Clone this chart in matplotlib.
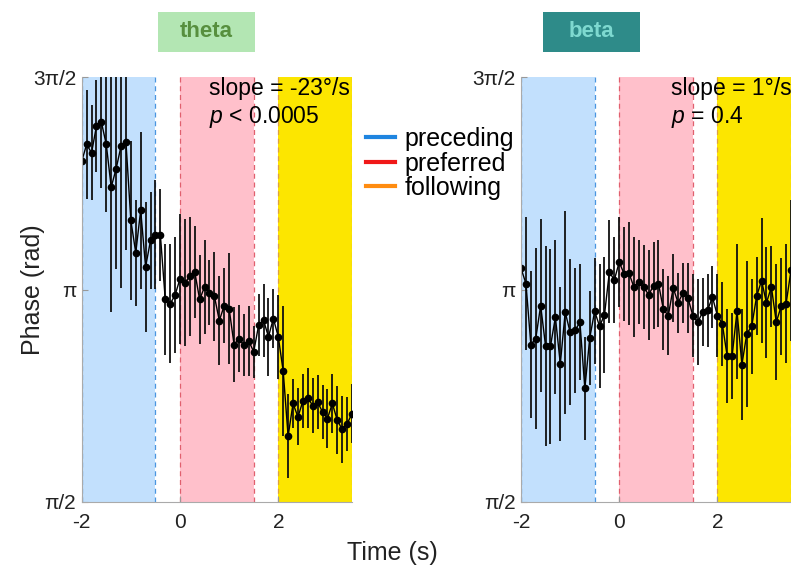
import numpy as np
import matplotlib
matplotlib.use("Agg")
import matplotlib.pyplot as plt
from matplotlib.lines import Line2D
from matplotlib.patches import Rectangle

plt.rcParams['font.family'] = ['Liberation Sans', 'DejaVu Sans']
plt.rcParams['mathtext.fontset'] = 'custom'
plt.rcParams['mathtext.it'] = 'Liberation Sans:italic'
plt.rcParams['mathtext.rm'] = 'Liberation Sans'

# time bins (s)
t = np.linspace(-2, 3.5, 56)

# mean phase (rad) and error per bin
theta_phase = [4.090, 4.214, 4.152, 4.349, 4.379, 4.214, 3.898, 4.034, 4.201, 4.233,
               3.652, 3.413, 3.728, 3.309, 3.504, 3.548, 3.548, 3.068, 3.036, 3.100,
               3.221, 3.191, 3.240, 3.272, 3.068, 3.161, 3.117, 3.092, 2.912, 3.023,
               2.999, 2.735, 2.779, 2.730, 2.760, 2.681, 2.878, 2.915, 2.792, 2.927,
               2.792, 2.538, 2.057, 2.299, 2.200, 2.316, 2.341, 2.284, 2.309, 2.237,
               2.188, 2.299, 2.176, 2.107, 2.148, 2.225]
theta_err = [0.35, 0.40, 0.35, 0.34, 0.49, 0.50, 0.92, 0.74, 1.05, 0.80,
             0.59, 0.39, 0.58, 0.48, 0.36, 0.40, 0.34, 0.41, 0.44, 0.43,
             0.48, 0.47, 0.44, 0.34, 0.33, 0.35, 0.24, 0.33, 0.33, 0.28,
             0.41, 0.28, 0.25, 0.23, 0.26, 0.19, 0.23, 0.27, 0.29, 0.22,
             0.31, 0.48, 0.31, 0.18, 0.21, 0.20, 0.22, 0.20, 0.20, 0.20,
             0.22, 0.22, 0.25, 0.25, 0.20, 0.22]

beta_phase = [3.297, 3.186, 2.735, 2.779, 3.023, 2.723, 2.723, 2.937, 2.592, 2.974,
              2.826, 2.839, 2.900, 2.410, 2.784, 2.981, 2.870, 2.954, 3.272, 3.211,
              3.344, 3.257, 3.262, 3.159, 3.198, 3.159, 3.102, 3.171, 3.186, 2.994,
              2.949, 3.154, 3.043, 3.117, 3.080, 2.949, 2.900, 2.974, 2.989, 3.085,
              2.949, 2.888, 2.649, 2.649, 2.981, 2.587, 2.816, 2.870, 3.092, 3.208,
              3.043, 3.161, 2.900, 3.018, 3.036, 3.284]
beta_err = [0.69, 0.49, 0.54, 0.67, 0.64, 0.74, 0.72, 0.57, 0.57, 0.75,
            0.54, 0.46, 0.43, 0.38, 0.35, 0.39, 0.46, 0.43, 0.38, 0.32,
            0.33, 0.35, 0.38, 0.37, 0.31, 0.31, 0.33, 0.32, 0.32, 0.30,
            0.29, 0.25, 0.22, 0.22, 0.26, 0.31, 0.32, 0.25, 0.27, 0.23,
            0.31, 0.31, 0.35, 0.32, 0.50, 0.41, 0.54, 0.35, 0.29, 0.46,
            0.41, 0.30, 0.43, 0.36, 0.44, 0.52]

windows = [(-2, -0.5), (0, 1.5), (2, 3.5)]
window_names = ['preceding', 'preferred', 'following']
fill_cols = ['#c2e0fd', '#ffc0cb', '#fce600']
edge_cols = ['#4a96e0', '#e0606e', '#e0a040']
legend_cols = ['#1f85e0', '#f01818', '#ff8c10']

yticks = [np.pi / 2, np.pi, 3 * np.pi / 2]
ytick_labels = ['π/2', 'π', '3π/2']
xticks = [-2, 0, 2]


def draw_panel(ax, phase, err, slope_txt, p_txt, txt_x):
    for (a, b), fc, ec in zip(windows, fill_cols, edge_cols):
        ax.axvspan(a, b, color=fc, lw=0, zorder=0)
        ax.axvline(a, color=ec, lw=0.9, ls=(0, (4, 3)), zorder=1)
        ax.axvline(b, color=ec, lw=0.9, ls=(0, (4, 3)), zorder=1)
    ax.errorbar(t, phase, yerr=err, fmt='-o', color='k', ms=4.5, lw=1,
                elinewidth=1.3, ecolor='#111111', capsize=0, zorder=3)
    ax.set_xlim(-2, 3.5)
    ax.set_ylim(np.pi / 2, 3 * np.pi / 2)
    ax.set_yticks(yticks)
    ax.set_yticklabels(ytick_labels)
    ax.set_xticks(xticks)
    ax.set_xticklabels(['-2', '0', '2'])
    ax.tick_params(direction='in', length=4, color='#999999', labelsize=15,
                   labelcolor='#222222', pad=4)
    ax.tick_params(axis='x', pad=8)
    for s in ['top', 'right']:
        ax.spines[s].set_visible(False)
    for s in ['left', 'bottom']:
        ax.spines[s].set_color('#aaaaaa')
        ax.spines[s].set_zorder(4)
    tr = ax.get_xaxis_transform()
    ax.text(txt_x, 0.972, slope_txt, transform=tr, fontsize=16.5, va='center', zorder=5)
    ax.text(txt_x, 0.905, p_txt, transform=tr, fontsize=16.5, va='center', zorder=5)


fig = plt.figure(figsize=(7.91, 5.68), dpi=100)
ax1 = fig.add_axes([0.1033, 0.1162, 0.3417, 0.7482])
ax2 = fig.add_axes([0.6587, 0.1162, 0.3413, 0.7482])

draw_panel(ax1, theta_phase, theta_err, 'slope = -23°/s', r'$p$ < 0.0005', 0.6)
draw_panel(ax2, beta_phase, beta_err, 'slope = 1°/s', r'$p$ = 0.4', 1.05)

# band titles
fig.add_artist(Rectangle((0.1997, 0.9085), 0.1226, 0.0704, transform=fig.transFigure,
                         facecolor='#b3e6b3', edgecolor='none'))
fig.text(0.1997 + 0.0613, 0.9085 + 0.0352, 'theta', fontsize=16, fontweight='bold',
         color='#578f3e', ha='center', va='center')
fig.add_artist(Rectangle((0.6865, 0.9085), 0.1226, 0.0704, transform=fig.transFigure,
                         facecolor='#2e8b89', edgecolor='none'))
fig.text(0.6865 + 0.0613, 0.9085 + 0.0352, 'beta', fontsize=16, fontweight='bold',
         color='#7ed9d0', ha='center', va='center')

handles = [Line2D([0], [0], color=c, lw=3) for c in legend_cols]
fig.legend(handles, window_names, loc='upper left', bbox_to_anchor=(366 / 791, 1 - 127 / 568),
           frameon=False, fontsize=18, handlelength=1.15, handletextpad=0.4,
           labelspacing=0.02, borderpad=0, borderaxespad=0)

fig.text(33 / 791, 1 - 290 / 568, 'Phase (rad)', rotation=90, fontsize=18,
         ha='center', va='center', color='#222222')
fig.text(392 / 791, 1 - 553 / 568, 'Time (s)', fontsize=18, ha='center', va='center',
         color='#222222')

fig.savefig('out.png', dpi=100)
